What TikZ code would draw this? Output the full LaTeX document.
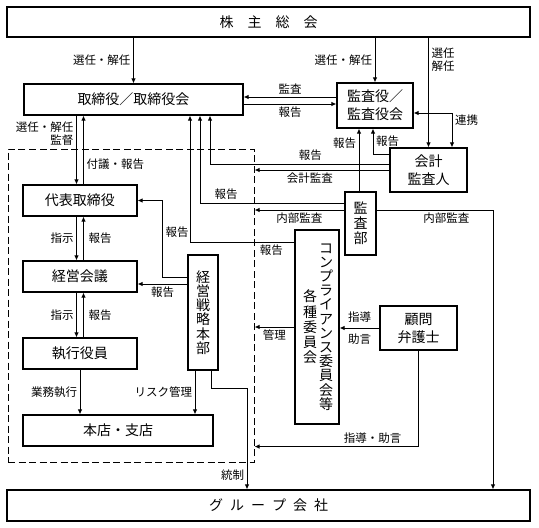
\documentclass[tikz,border=0pt]{standalone}
\usepackage{fontspec}
\setmainfont{Noto Sans CJK JP}
\usetikzlibrary{arrows.meta, positioning, calc}

\begin{document}
\begin{tikzpicture}[x=1pt, y=-1pt,
    box/.style={draw, line width=1.1pt, inner sep=0pt, align=center, font=\fontsize{14}{18}\selectfont},
    vert/.style={align=center, inner sep=0pt, font=\fontsize{14}{14.2}\selectfont},
    lbl/.style={font=\fontsize{11.5}{13}\selectfont, inner sep=2.5pt},
    arr/.style={line width=1pt, -{Latex[length=5pt,width=4.5pt]}},
    arrboth/.style={line width=1pt, {Latex[length=5pt,width=4.5pt]}-{Latex[length=5pt,width=4.5pt]}}]
    \useasboundingbox (0,0) rectangle (539,528);

    % Company area (dashed)
    \node[draw, line width=1pt, dash pattern=on 7pt off 3.5pt, minimum width=246pt, minimum height=313pt] (inside) at (131,305.5) {};

    % Top and bottom boxes
    \node[box, minimum width=523pt, minimum height=30pt] (meeting) at (268.5,22) {株\hspace{1em}主\hspace{1em}総\hspace{1em}会};
    \node[box, minimum width=523pt, minimum height=31pt] (group) at (268.5,505.5) {グ\hspace{0.5em}ル\hspace{0.5em}ー\hspace{0.5em}プ\hspace{0.5em}会\hspace{0.5em}社};

    % Board and auditors
    \node[box, minimum width=219pt, minimum height=31pt] (board) at (133.5,99.5) {取締役／取締役会};
    \node[box, minimum width=76pt, minimum height=45pt] (auditors) at (375,105.5) {監査役／\\監査役会};
    \node[box, minimum width=77pt, minimum height=44pt] (accountant) at (428.5,170) {会計\\監査人};
    \node[box, vert, minimum width=31pt, minimum height=63pt, font=\fontsize{14}{15}\selectfont] (audit) at (360.5,223.5) {監\\査\\部};

    % Compliance and lawyer
    \node[box, minimum width=44pt, minimum height=194pt] (comp) at (317,327) {};
    \node[vert] (compR) at (326,327) {コ\\ン\\プ\\ラ\\イ\\ア\\ン\\ス\\委\\員\\会\\等};
    \node[vert, font=\fontsize{14}{15.2}\selectfont] (compL) at (310,327) {各\\種\\委\\員\\会};
    \node[box, minimum width=77pt, minimum height=44pt] (lawyer) at (418.5,328) {顧問\\弁護士};

    % Executive side
    \node[box, minimum width=114pt, minimum height=31pt] (ceo) at (80,200.5) {代表取締役};
    \node[box, minimum width=114pt, minimum height=31pt] (mgmt) at (80,276.5) {経営会議};
    \node[box, minimum width=114pt, minimum height=31pt] (officers) at (80,353.5) {執行役員};
    \node[box, vert, minimum width=30pt, minimum height=115pt] (strategy) at (203,312.5) {経\\営\\戦\\略\\本\\部};
    \node[box, minimum width=190pt, minimum height=31pt] (branch) at (118,430.5) {本店・支店};

    % Shareholders' meeting
    \draw[arr] (meeting.south -| board.north) -- node[lbl, left]{選任・解任} (board.north);
    \draw[arr] (meeting.south -| auditors.north) -- node[lbl, left]{選任・解任} (auditors.north);
    \draw[arr] (meeting.south -| accountant.north) -- node[lbl, right, align=left, pos=0.2]{選任\\解任} (accountant.north);
    \draw[arrboth] ([yshift=-7.5pt]auditors.east) -| node[lbl, right, pos=0.6]{連携} ([xshift=23.5pt]accountant.north);

    % Auditors and board
    \draw[arr] ([yshift=8.5pt]auditors.west) -- node[lbl, above]{監査} ([yshift=8.5pt]auditors.west -| board.east);
    \draw[arr] ([yshift=-4.5pt]board.east) -- node[lbl, below]{報告} ([yshift=-4.5pt]board.east -| auditors.west);

    % Accountant and audit dept
    \draw[arr] ([yshift=16pt]accountant.west) -| node[lbl, right, pos=0.75]{報告} ([xshift=-2pt]auditors.south);
    \draw[arr] ([xshift=-1.5pt]audit.north) -- node[lbl, left, pos=0.77]{報告} ([xshift=-1.5pt]audit.north |- auditors.south);
    \draw[arr] ([yshift=6pt]accountant.west) -| node[lbl, above, pos=0.22]{報告} ([xshift=76.5pt]board.south);
    \draw[arr] (accountant.west) -- node[lbl, below, pos=0.59]{会計監査} (accountant.west -| inside.east);
    \draw[arr] ([yshift=20.5pt]audit.west) -| node[lbl, above, pos=0.41]{報告} ([xshift=66.5pt]board.south);
    \draw[arr] ([yshift=13.5pt]audit.west) -- node[lbl, below]{内部監査} ([yshift=13.5pt]audit.west -| inside.east);
    \draw[arr] ([yshift=13.5pt]audit.east) -| node[lbl, below, pos=0.3]{内部監査} ([xshift=224.5pt]group.north);

    % Compliance
    \draw[arr] ([yshift=85pt]comp.west) -| node[lbl, below, pos=0.11]{報告} ([xshift=56.5pt]board.south);
    \draw[arr] (comp.west) -- node[lbl, below]{管理} (comp.west -| inside.east);
    \draw[arr] (lawyer.west) -- node[lbl, above=3pt]{指導} node[lbl, below=3pt]{助言} (lawyer.west -| comp.east);
    \draw[arr] (lawyer.south) |- node[lbl, above, pos=0.64]{指導・助言} (branch.south -| inside.east);

    % Board down to executives
    \draw[arr] ([xshift=-3.5pt]ceo.north |- board.south) -- node[lbl, left, align=right, pos=0.26]{選任・解任\\監督} ([xshift=-3.5pt]ceo.north);
    \draw[arr] ([xshift=3.5pt]ceo.north) -- node[lbl, right, pos=0.29]{付議・報告} ([xshift=3.5pt]ceo.north |- board.south);
    \foreach \a/\b in {ceo/mgmt, mgmt/officers} {
        \draw[arr] ([xshift=-3.5pt]\a.south) -- node[lbl, left]{指示} ([xshift=-3.5pt]\b.north);
        \draw[arr] ([xshift=3.5pt]\b.north) -- node[lbl, right=2pt]{報告} ([xshift=3.5pt]\a.south);
    }

    % Strategy office
    \draw[arr] ([yshift=35.5pt]strategy.west) -| node[lbl, right, pos=0.79]{報告} ([xshift=25pt]ceo.east) -- (ceo.east);
    \draw[arr] ([yshift=28.5pt]strategy.west) -- node[lbl, below]{報告} ([yshift=28.5pt]strategy.west -| mgmt.east);
    \draw[arr] (officers.south) -- node[lbl, left]{業務執行} (officers.south |- branch.north);
    \draw[arr] ([xshift=-8pt]strategy.south) -- node[lbl, left]{リスク管理} ([xshift=-8pt]strategy.south |- branch.north);
    \draw[arr] ([xshift=8pt]strategy.south) -- ++(0,18) -| node[lbl, left, pos=0.93]{統制} ([xshift=-21.5pt]group.north);
\end{tikzpicture}
\end{document}
